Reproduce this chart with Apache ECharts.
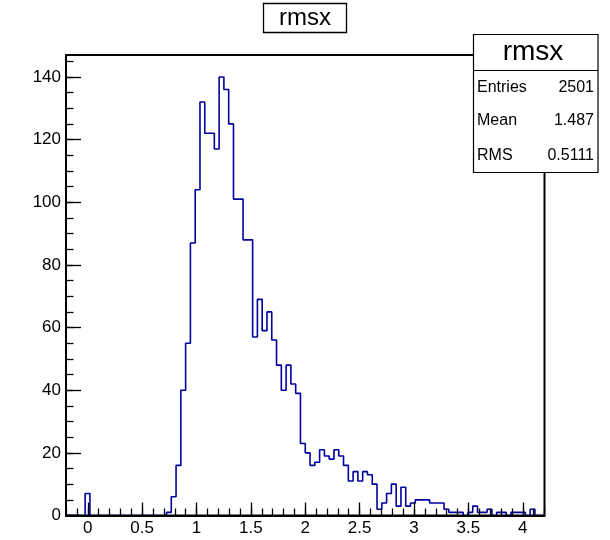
<!DOCTYPE html>
<html><head><meta charset="utf-8">
<script src="https://cdn.jsdelivr.net/npm/echarts@6.0.0/dist/echarts.min.js"></script>
<style>html,body{margin:0;padding:0;background:#fff}#c{width:610px;height:540px}</style>
</head><body><div id="c"></div>
<script>
// ---- data ----
const xMin = -0.2, xMax = 4.2, nBins = 100;
const binCounts = [
  0,0,0,0,7,0,0,0,0,0,
  0,0,0,0,0,0,0,0,0,0,
  0,1,6,16,40,55,87,104,132,122,
  122,117,140,136,125,101,101,88,88,57,
  69,59,65,56,48,40,48,42,39,23,
  20,16,17,21,19,18,21,19,16,11,
  14,11,14,13,10,2,4,7,10,3,
  9,3,4,5,5,5,4,4,4,2,
  1,1,1,0,1,3,1,1,2,0,
  1,1,0,1,1,1,0,2,0,0
];
const xTickValues = [0,0.5,1,1.5,2,2.5,3,3.5,4];
const yTickValues = [0,20,40,60,80,100,120,140];
const histTitle = 'rmsx';
const statsLabels = ['Entries','Mean','RMS'];
const statsValues = ['2501','1.487','0.5111'];
const yMax = 147;

// ---- derived ----
const xMinorValues = [];
for (let k = -2; k <= 42; k++) xMinorValues.push(Math.round(k) / 10);
const yMinorValues = [];
for (let v = 0; v <= 145; v += 5) yMinorValues.push(v);
const binW = (xMax - xMin) / nBins;
const stepData = binCounts.map((c, i) => [xMin + i * binW, c]);
stepData.push([xMax, binCounts[nBins - 1]]);

const FONT = 'Liberation Sans, Arial, Helvetica, sans-serif';
const tickStyle = {color:'#000', width:1.3};

const chart = echarts.init(document.getElementById('c'), null, {renderer:'canvas'});
const rowY = [88, 121, 156];
const graphics = [
  {type:'rect', z:100, shape:{x:263.5, y:3.5, width:83, height:29}, style:{fill:'#fff', stroke:'#000', lineWidth:1.3}},
  {type:'text', z:101, style:{text:histTitle, x:305, y:18, font:'24px ' + FONT, fill:'#000', align:'center', verticalAlign:'middle', textAlign:'center', textVerticalAlign:'middle'}},
  {type:'rect', z:100, shape:{x:473.5, y:34.5, width:124.5, height:138}, style:{fill:'#fff', stroke:'#000', lineWidth:1.2}},
  {type:'line', z:101, shape:{x1:473.5, y1:70.5, x2:598, y2:70.5}, style:{stroke:'#000', lineWidth:1.2}},
  {type:'text', z:101, style:{text:histTitle, x:533, y:52, font:'28px ' + FONT, fill:'#000', align:'center', verticalAlign:'middle', textAlign:'center', textVerticalAlign:'middle'}}
];
statsLabels.forEach((lab, i) => {
  graphics.push({type:'text', z:101, style:{text:lab, x:477, y:rowY[i], font:'16px ' + FONT, fill:'#000', align:'left', verticalAlign:'middle', textAlign:'left', textVerticalAlign:'middle'}});
  graphics.push({type:'text', z:101, style:{text:statsValues[i], x:594, y:rowY[i], font:'16px ' + FONT, fill:'#000', align:'right', verticalAlign:'middle', textAlign:'right', textVerticalAlign:'middle'}});
});

chart.setOption({
  animation:false,
  backgroundColor:'#fff',
  grid:{left:66, right:65.5, top:55, bottom:24.5, show:true, borderColor:'#000', borderWidth:2, backgroundColor:'transparent'},
  xAxis:[
    {type:'value', min:xMin, max:xMax, position:'bottom', z:5,
     axisLine:{show:true, onZero:false, lineStyle:{color:'#000', width:2}},
     axisTick:{show:true, inside:true, length:13, customValues:xTickValues, lineStyle:tickStyle},
     axisLabel:{show:true, customValues:xTickValues, color:'#000', fontSize:17, fontFamily:FONT, margin:4},
     splitLine:{show:false}},
    {type:'value', min:xMin, max:xMax, position:'bottom', z:5,
     axisLine:{show:false, onZero:false},
     axisTick:{show:true, inside:true, length:7, customValues:xMinorValues, lineStyle:tickStyle},
     axisLabel:{show:false},
     splitLine:{show:false}}
  ],
  yAxis:[
    {type:'value', min:0, max:yMax, position:'left', z:5,
     axisLine:{show:true, onZero:false, lineStyle:{color:'#000', width:2}},
     axisTick:{show:true, inside:true, length:15, customValues:yTickValues, lineStyle:tickStyle},
     axisLabel:{show:true, customValues:yTickValues, color:'#000', fontSize:17, fontFamily:FONT, margin:5},
     splitLine:{show:false}},
    {type:'value', min:0, max:yMax, position:'left', z:5,
     axisLine:{show:false, onZero:false},
     axisTick:{show:true, inside:true, length:7.5, customValues:yMinorValues, lineStyle:tickStyle},
     axisLabel:{show:false},
     splitLine:{show:false}}
  ],
  series:[{
    type:'line', step:'end', data:stepData, xAxisIndex:0, yAxisIndex:0,
    symbol:'none', showSymbol:false, clip:true,
    lineStyle:{color:'#00009f', width:1.6}
  }],
  graphic:graphics
});
</script>
</body></html>
